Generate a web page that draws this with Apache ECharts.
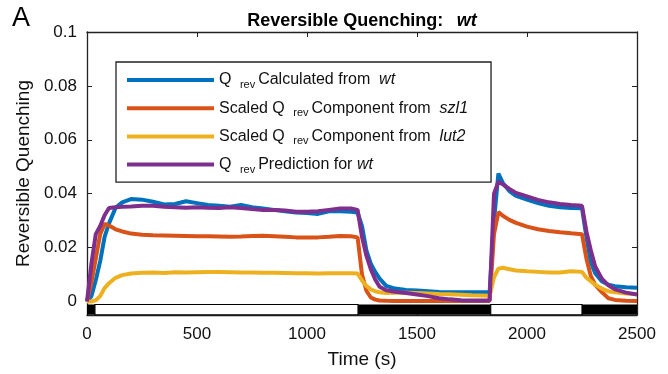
<!DOCTYPE html>
<html>
<head>
<meta charset="utf-8">
<script src="https://cdn.jsdelivr.net/npm/echarts@6/dist/echarts.min.js"></script>
<style>
  html, body { margin: 0; padding: 0; background: #fff; }
  #chart { width: 668px; height: 374px; }
</style>
</head>
<body>
<div id="chart"></div>
<script>
// time points (s)
const times = [0, 20, 40, 60, 80, 100, 130, 160, 200, 250, 300, 350, 400, 450, 500, 550, 600, 650, 700, 750,
  800, 850, 900, 950, 1000, 1050, 1100, 1150, 1200, 1230, 1250, 1270, 1290, 1310, 1330, 1360, 1400, 1450, 1500,
  1550, 1600, 1650, 1700, 1750, 1800, 1830, 1850, 1870, 1890, 1920, 1950, 2000, 2050, 2100, 2150, 2200, 2250,
  2270, 2290, 2310, 2340, 2370, 2400, 2450, 2500];

// Q rev calculated from wt
const calcWt = [0, 0.002, 0.008, 0.015, 0.024, 0.029, 0.0348, 0.0368, 0.038, 0.0378, 0.037, 0.036, 0.0362, 0.0372, 0.0365, 0.0358,
  0.0355, 0.0352, 0.0358, 0.035, 0.0345, 0.034, 0.0335, 0.033, 0.0328, 0.0325, 0.0335, 0.0335, 0.0333, 0.033, 0.028, 0.019, 0.014,
  0.011, 0.0085, 0.0058, 0.0048, 0.0043, 0.0041, 0.0038, 0.0035, 0.0034, 0.0034, 0.0034, 0.0034, 0.0034, 0.030, 0.0475, 0.044,
  0.041, 0.0392, 0.0378, 0.0365, 0.0355, 0.035, 0.0347, 0.0346, 0.024, 0.0145, 0.0105, 0.0075, 0.0062, 0.0057, 0.0053, 0.0051];

// scaled component from szl1
const szl1 = [0, 0.007, 0.016, 0.025, 0.0288, 0.0282, 0.0268, 0.026, 0.0252, 0.0248, 0.0246, 0.0245, 0.0244, 0.0243, 0.0242, 0.0242,
  0.0241, 0.024, 0.0241, 0.0243, 0.0244, 0.0242, 0.024, 0.0238, 0.0238, 0.0238, 0.024, 0.0243, 0.0242, 0.0238, 0.010, 0.004, 0.0015,
  0.0007, 0.0004, 0.0003, 0.0002, 0.0002, 0.0002, 0.0002, 0.0002, 0.0002, 0.0002, 0.0002, 0.0002, 0.0002, 0.025, 0.0332, 0.0318,
  0.0303, 0.0292, 0.0278, 0.0268, 0.0262, 0.0257, 0.0253, 0.025, 0.016, 0.0095, 0.0062, 0.0035, 0.0012, 0.0006, 0.0003, 0.0002];

// scaled component from lut2
const lut2 = [0, 0, 0.0005, 0.002, 0.005, 0.0068, 0.0088, 0.0098, 0.0104, 0.0107, 0.0108, 0.0106, 0.0109, 0.0108, 0.0109, 0.011,
  0.011, 0.0109, 0.0108, 0.0108, 0.0107, 0.0107, 0.0106, 0.0105, 0.0105, 0.0104, 0.0105, 0.0105, 0.0105, 0.0104, 0.0078, 0.0058,
  0.0045, 0.0038, 0.0034, 0.0032, 0.0033, 0.0033, 0.0032, 0.003, 0.0028, 0.0027, 0.0025, 0.0023, 0.0022, 0.0021, 0.009, 0.0122,
  0.0125, 0.012, 0.0115, 0.0112, 0.011, 0.0108, 0.0108, 0.0112, 0.011, 0.0088, 0.0075, 0.0062, 0.0048, 0.0038, 0.0034, 0.003, 0.0027];

// Q rev prediction for wt
const predWt = [0, 0.014, 0.025, 0.028, 0.032, 0.0347, 0.035, 0.0352, 0.0353, 0.0355, 0.0355, 0.0352, 0.035, 0.0348, 0.035, 0.0348,
  0.0347, 0.035, 0.0347, 0.0343, 0.034, 0.034, 0.0338, 0.0333, 0.0333, 0.0335, 0.034, 0.0345, 0.0345, 0.034, 0.024, 0.017, 0.012,
  0.0082, 0.0055, 0.0042, 0.0036, 0.0032, 0.0026, 0.002, 0.0012, 0.0008, 0.0005, 0.0004, 0.0004, 0.0004, 0.040, 0.0445, 0.0435,
  0.0418, 0.0403, 0.039, 0.0377, 0.0368, 0.0362, 0.0358, 0.0355, 0.026, 0.019, 0.013, 0.0085, 0.006, 0.0045, 0.0033, 0.0026];

// light / dark periods shown in the bar under the curves
const lightPeriods = [[36, 1232], [1835, 2250]];
const darkPeriods = [[0, 36], [1232, 1835], [2250, 2500]];

const xTicks = [0, 500, 1000, 1500, 2000, 2500];
const yTicks = [0, 0.02, 0.04, 0.06, 0.08, 0.1];

const seriesNames = ['calc', 'szl1', 'lut2', 'pred'];
const legendLabels = [
  'Q {s|rev}Calculated from  {i|wt}',
  'Scaled Q {s|rev}Component from  {i|szl1}',
  'Scaled Q {s|rev}Component from  {i|lut2}',
  'Q {s|rev}Prediction for {i|wt}'
];
const colors = ['#0072BD', '#D95319', '#EDB120', '#7E2F8E'];
const values = [calcWt, szl1, lut2, predWt];

const FONT = '"Liberation Sans", Arial, sans-serif';
const bandBottom = -0.0049, bandTop = -0.0011;

const chart = echarts.init(document.getElementById('chart'));

const lineSeries = seriesNames.map((name, i) => ({
  name: name,
  type: 'line',
  data: times.map((t, k) => [t, values[i][k]]),
  showSymbol: false,
  symbol: 'none',
  color: colors[i],
  lineStyle: { width: 4, color: colors[i] },
  z: 3 + i
}));

const bandSeries = {
  name: 'band',
  type: 'line',
  data: [],
  silent: true,
  markArea: {
    silent: true,
    data: darkPeriods.map(p => [
      { xAxis: p[0], yAxis: bandBottom, itemStyle: { color: '#000', borderWidth: 0 } },
      { xAxis: p[1], yAxis: bandTop }
    ]).concat(lightPeriods.map(p => [
      { xAxis: p[0], yAxis: bandBottom, itemStyle: { color: '#fff', borderColor: '#000', borderWidth: 1.2 } },
      { xAxis: p[1], yAxis: bandTop }
    ]))
  }
};

const axisLine = { show: true, onZero: false, lineStyle: { color: '#222', width: 1.3 } };

chart.setOption({
  animation: false,
  grid: { left: 87, right: 31, top: 32, bottom: 59 },
  xAxis: [{
    type: 'value', min: 0, max: 2500, interval: 500,
    name: 'Time (s)', nameLocation: 'middle', nameGap: 35,
    nameTextStyle: { fontSize: 19, color: '#111', fontFamily: FONT },
    axisLine: axisLine,
    axisTick: { inside: true, length: 5, lineStyle: { color: '#222' } },
    axisLabel: { fontSize: 17, color: '#111', fontFamily: FONT, margin: 11, formatter: v => String(v) },
    splitLine: { show: false }
  }, {
    type: 'value', min: 0, max: 2500, interval: 500, position: 'top',
    axisLine: axisLine,
    axisTick: { inside: true, length: 5, lineStyle: { color: '#222' } },
    axisLabel: { show: false },
    splitLine: { show: false }
  }],
  yAxis: [{
    type: 'value', min: -0.005, max: 0.1,
    name: 'Reversible Quenching', nameLocation: 'middle', nameGap: 52,
    nameTextStyle: { fontSize: 19, color: '#111', fontFamily: FONT },
    axisLine: axisLine,
    axisTick: { inside: true, length: 5, customValues: yTicks, lineStyle: { color: '#222' } },
    axisLabel: { fontSize: 17, color: '#111', fontFamily: FONT, margin: 10, customValues: yTicks,
      formatter: v => String(+v.toFixed(2)) },
    splitLine: { show: false }
  }, {
    type: 'value', min: -0.005, max: 0.1, position: 'right',
    axisLine: axisLine,
    axisTick: { inside: true, length: 5, customValues: yTicks, lineStyle: { color: '#222' } },
    axisLabel: { show: false },
    splitLine: { show: false }
  }],
  legend: {
    data: seriesNames,
    orient: 'vertical',
    left: 116, top: 62,
    padding: [8, 23, 7, 11],
    itemGap: 7.7,
    itemWidth: 87, itemHeight: 4,
    icon: 'rect',
    borderColor: '#222', borderWidth: 1.3,
    backgroundColor: '#fff',
    selectedMode: false,
    formatter: name => legendLabels[seriesNames.indexOf(name)],
    textStyle: {
      fontSize: 16, color: '#111', fontFamily: FONT, lineHeight: 20,
      rich: {
        s: { fontSize: 11, fontFamily: FONT, color: '#111', padding: [10, 3, 0, 4] },
        i: { fontSize: 16, fontStyle: 'italic', fontFamily: FONT, color: '#111' }
      }
    }
  },
  graphic: [{
    type: 'text', left: 12, top: 5,
    style: { text: 'A', fontSize: 27, fontFamily: FONT, fill: '#000' }
  }, {
    type: 'text', x: 362, y: 21,
    style: {
      text: '{b|Reversible Quenching:}    {i|wt}',
      align: 'center', verticalAlign: 'middle',
      rich: {
        b: { fontSize: 18, fontWeight: 'bold', fontFamily: FONT, fill: '#000' },
        i: { fontSize: 18, fontWeight: 'bold', fontStyle: 'italic', fontFamily: FONT, fill: '#000' }
      }
    }
  }],
  series: [bandSeries].concat(lineSeries)
});
</script>
</body>
</html>
